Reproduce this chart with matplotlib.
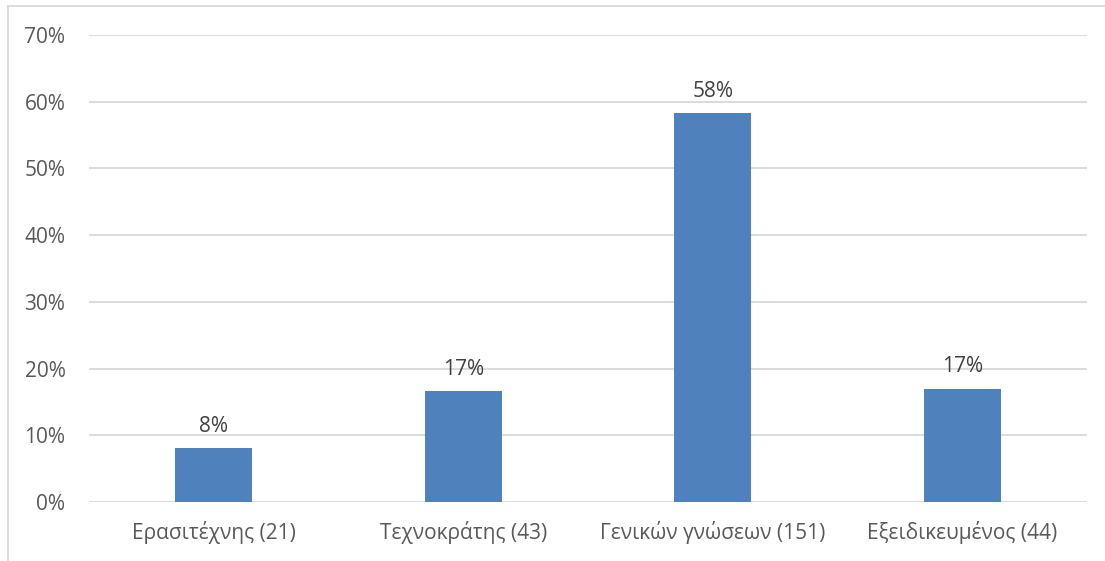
import matplotlib
matplotlib.use("Agg")
import matplotlib.pyplot as plt
from matplotlib.lines import Line2D

categories = ["Ερασιτέχνης (21)", "Τεχνοκράτης (43)", "Γενικών γνώσεων (151)", "Εξειδικευμένος (44)"]
values = [8.1, 16.6, 58.3, 17.0]
value_labels = ["8%", "17%", "58%", "17%"]
yticks = [0, 10, 20, 30, 40, 50, 60, 70]
ytick_labels = ["0%", "10%", "20%", "30%", "40%", "50%", "60%", "70%"]

plt.rcParams['font.family'] = ['Open Sans', 'DejaVu Sans']

fig = plt.figure(figsize=(11.05, 5.61), dpi=100)
ax = fig.add_axes([89/1105, 1-502/561, (1087-89)/1105, (502-35)/561])

x = list(range(len(categories)))
ax.bar(x, values, width=0.31, color="#4f81bd", zorder=3)
ax.set_xlim(-0.5, 3.5)
ax.set_ylim(0, 70)
ax.set_yticks(yticks)
ax.set_yticklabels(ytick_labels)
ax.set_xticks(x)
ax.set_xticklabels(categories)
ax.grid(axis='y', color="#d9d9d9", linewidth=1.3, zorder=0)
for s in ax.spines.values():
    s.set_visible(False)
ax.tick_params(axis='both', length=0, colors="#595959", labelsize=15)
ax.tick_params(axis='y', pad=17)
ax.tick_params(axis='x', pad=14)

for xi, v, lab in zip(x, values, value_labels):
    ax.annotate(lab, (xi, v), xytext=(0, 8), textcoords='offset points',
                ha='center', va='bottom', fontsize=15, color="#404040")

fig.add_artist(Line2D([8/1105, 8/1105], [0, 1-6/561], color="#d9d9d9", linewidth=1.3, transform=fig.transFigure))
fig.add_artist(Line2D([8/1105, 1], [1-6/561, 1-6/561], color="#d9d9d9", linewidth=1.3, transform=fig.transFigure))

fig.savefig("out.png", dpi=100)
